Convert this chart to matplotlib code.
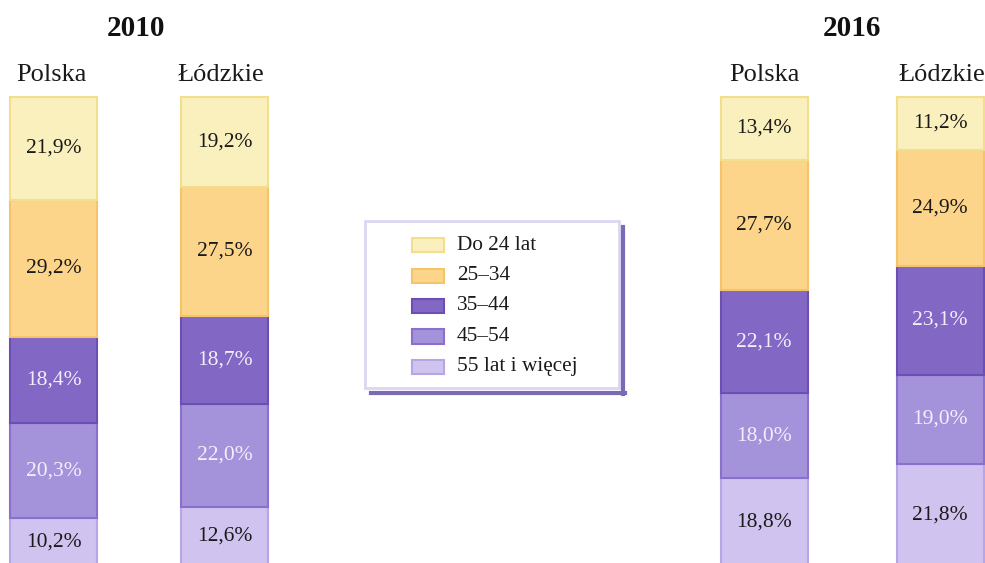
import numpy as np
import matplotlib.pyplot as plt
from matplotlib.patches import Rectangle
from matplotlib.lines import Line2D

plt.rcParams['font.family'] = ['Liberation Serif', 'DejaVu Serif']

# dane (udzialy w %) - kolejnosc od gory slupka
grupy = ["Do 24 lat", "25–34", "35–44", "45–54", "55 lat i więcej"]
lata = ["2010", "2016"]
regiony = ["Polska", "Łódzkie", "Polska", "Łódzkie"]
polska_2010 = [21.9, 29.2, 18.4, 20.3, 10.2]
lodzkie_2010 = [19.2, 27.5, 18.7, 22.0, 12.6]
polska_2016 = [13.4, 27.7, 22.1, 18.0, 18.8]
lodzkie_2016 = [11.2, 24.9, 23.1, 19.0, 21.8]
slupki = [polska_2010, lodzkie_2010, polska_2016, lodzkie_2016]

kolory = ['#FAF0BE', '#FDD58A', '#8268C4', '#A493DA', '#D0C3EF']
krawedzie = ['#F3DE8E', '#F5C46A', '#6B4FB5', '#8A70CC', '#B8A5E6']
kolor_tekstu = ['#1a1a1a', '#1a1a1a', '#F2EEFA', '#F2EEFA', '#1a1a1a']

W, H = 985, 563
fig = plt.figure(figsize=(W / 100, H / 100), dpi=100)
ax = fig.add_axes([0, 0, 1, 1])
ax.set_xlim(0, W)
ax.set_ylim(3 / 4.69, 566 / 4.69)
ax.axis('off')

def fx(x):
    return x / W

def fy(y):
    return 1 - y / H

pozycje_x = [53.5, 224.5, 764, 940]
szer = 87

for xc, wartosci in zip(pozycje_x, slupki):
    # od dolu do gory
    dol = 0
    for i in reversed(range(len(grupy))):
        v = wartosci[i]
        ax.bar(xc, v, bottom=dol, width=szer, color=kolory[i],
               edgecolor=krawedzie[i], linewidth=1.5)
        ax.text(xc, dol + v / 2, f"{v:.1f}%".replace('.', ','),
                ha='center', va='center', fontsize=15.5, color=kolor_tekstu[i])
        dol += v

# naglowki
for rok, xc in zip(lata, [136, 852]):
    fig.text(fx(xc), fy(29), rok, ha='center', va='center',
             fontsize=21, fontweight='bold', color='#111111')
for reg, xc in zip(regiony, [51, 221, 764, 942]):
    fig.text(fx(xc), fy(75), reg, ha='center', va='center',
             fontsize=19, color='#1a1a1a')

# legenda
fig.patches.append(Rectangle((fx(365), fy(388)), fx(619) - fx(365), fy(221) - fy(388),
                             transform=fig.transFigure, facecolor='white',
                             edgecolor='#DCD6F2', linewidth=2))
fig.lines.append(Line2D([fx(623), fx(623)], [fy(227), fy(394)],
                        transform=fig.transFigure, color='#7B6BB5', linewidth=3))
fig.lines.append(Line2D([fx(371), fx(624.5)], [fy(392.5), fy(392.5)],
                        transform=fig.transFigure, color='#7B6BB5', linewidth=3))
for i, g in enumerate(grupy):
    yc = 245 + i * 30.5
    fig.patches.append(Rectangle((fx(412), fy(yc + 7)), fx(444) - fx(412), fy(yc - 7) - fy(yc + 7),
                                 transform=fig.transFigure, facecolor=kolory[i],
                                 edgecolor=krawedzie[i], linewidth=1.5))
    fig.text(fx(457), fy(yc), g, ha='left', va='center', fontsize=15.3, color='#1a1a1a')

fig.savefig('out.png', dpi=100)
